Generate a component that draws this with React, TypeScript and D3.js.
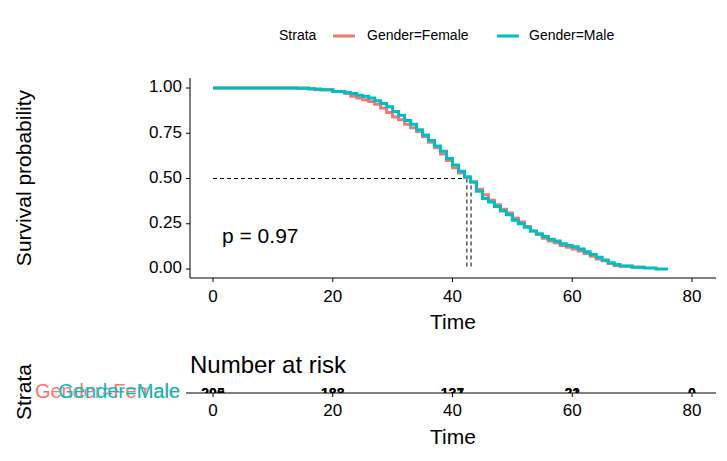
import React from "react";
import * as d3 from "d3";

const femaleT = [0, 11, 14, 17, 20, 22, 23, 24, 25, 26, 27, 28, 29, 30, 31, 32, 33, 34, 35, 36, 37, 38, 39, 40, 41, 42, 43, 44, 45, 46, 47, 48, 49, 50, 51, 52, 53, 54, 55, 56, 57, 58, 59, 60, 61, 62, 63, 64, 65, 66, 67, 68, 70, 72];
const femaleS = [1, 1, 0.997, 0.99, 0.98, 0.97, 0.955, 0.945, 0.935, 0.925, 0.91, 0.89, 0.865, 0.84, 0.825, 0.8, 0.78, 0.76, 0.73, 0.7, 0.67, 0.635, 0.6, 0.56, 0.53, 0.505, 0.48, 0.44, 0.41, 0.38, 0.355, 0.33, 0.31, 0.28, 0.26, 0.235, 0.21, 0.19, 0.17, 0.155, 0.145, 0.13, 0.12, 0.11, 0.1, 0.085, 0.07, 0.055, 0.045, 0.03, 0.02, 0.015, 0.01, 0];
const maleT = [0, 13, 16, 18, 20, 22, 23, 24, 25, 26, 27, 28, 29, 30, 31, 32, 33, 34, 35, 36, 37, 38, 39, 40, 41, 42, 43, 44, 45, 46, 47, 48, 49, 50, 51, 52, 53, 54, 55, 56, 57, 58, 59, 60, 61, 62, 63, 64, 65, 66, 67, 68, 70, 72, 74, 76];
const maleS = [1, 1, 0.995, 0.99, 0.98, 0.975, 0.97, 0.96, 0.955, 0.945, 0.93, 0.915, 0.897, 0.87, 0.85, 0.82, 0.8, 0.77, 0.74, 0.71, 0.68, 0.65, 0.61, 0.575, 0.54, 0.51, 0.48, 0.43, 0.39, 0.37, 0.345, 0.32, 0.3, 0.27, 0.25, 0.23, 0.21, 0.195, 0.18, 0.165, 0.155, 0.14, 0.13, 0.123, 0.11, 0.095, 0.08, 0.065, 0.05, 0.035, 0.025, 0.017, 0.01, 0.005, 0, 0];
const medians = [42.4, 43.1];
const xTicks = [0, 20, 40, 60, 80];
const yTicks = [0, 0.25, 0.5, 0.75, 1];
const riskFemale = ["200", "183", "127", "21", "0"];
const riskMale = ["205", "188", "131", "22", "0"];

const RED = "#F8766D";
const CYAN = "#00BFC4";
const FONT = "Liberation Sans, Arial, sans-serif";

export default function App() {
  const x = d3.scaleLinear().domain([0, 80]).range([213, 692]);
  const y = d3.scaleLinear().domain([0, 1]).range([269, 88]);
  const line = d3.line<[number, number]>()
    .x((d) => x(d[0])).y((d) => y(d[1])).curve(d3.curveStepAfter);
  const fem = femaleT.map((t, i) => [t, femaleS[i]] as [number, number]);
  const mal = maleT.map((t, i) => [t, maleS[i]] as [number, number]);
  const riskY = 393;

  return (
    <svg width={727} height={461} style={{ position: "absolute", left: 0, top: 0 }} fontFamily={FONT}>
      <rect width={727} height={461} fill="white" />
      {/* legend */}
      <g fontSize={14} dominantBaseline="middle">
        <text x={279} y={36}>Strata</text>
        <line x1={333} x2={355} y1={36} y2={36} stroke={RED} strokeWidth={3} />
        <text x={367} y={36}>Gender=Female</text>
        <line x1={497} x2={519} y1={36} y2={36} stroke={CYAN} strokeWidth={3} />
        <text x={529} y={36}>Gender=Male</text>
      </g>
      {/* axes */}
      <line x1={190} x2={190} y1={78} y2={278} stroke="black" />
      <line x1={190} x2={716} y1={278} y2={278} stroke="black" />
      {yTicks.map((t) => (
        <g key={t}>
          <line x1={186} x2={190} y1={y(t)} y2={y(t)} stroke="black" />
          <text x={182} y={y(t)} textAnchor="end" dominantBaseline="middle" fontSize={17}>{t.toFixed(2)}</text>
        </g>
      ))}
      {xTicks.map((t) => (
        <g key={t}>
          <line x1={x(t)} x2={x(t)} y1={278} y2={282} stroke="black" />
          <text x={x(t)} y={298} textAnchor="middle" dominantBaseline="middle" fontSize={17}>{t}</text>
        </g>
      ))}
      <text x={453} y={323} textAnchor="middle" dominantBaseline="middle" fontSize={21}>Time</text>
      <text transform="translate(25,178) rotate(-90)" textAnchor="middle" dominantBaseline="middle" fontSize={21}>Survival probability</text>
      {/* medians */}
      <g stroke="black" strokeDasharray="4,3" fill="none">
        <line x1={x(0)} x2={x(medians[1])} y1={y(0.5)} y2={y(0.5)} />
        {medians.map((m) => <line key={m} x1={x(m)} x2={x(m)} y1={y(0.5)} y2={y(0)} />)}
      </g>
      <path d={line(fem) ?? ""} fill="none" stroke={RED} strokeWidth={3} />
      <path d={line(mal) ?? ""} fill="none" stroke={CYAN} strokeWidth={3} />
      <text x={222} y={237} dominantBaseline="middle" fontSize={21}>p = 0.97</text>

      {/* risk table */}
      <text x={190} y={367} dominantBaseline="middle" fontSize={24}>Number at risk</text>
      <text transform="translate(25,392) rotate(-90)" textAnchor="middle" dominantBaseline="middle" fontSize={21}>Strata</text>
      <text x={180} y={393} textAnchor="end" dominantBaseline="middle" fontSize={20} fill={RED}>Gender=Female</text>
      <text x={180} y={393} textAnchor="end" dominantBaseline="middle" fontSize={20} fill={CYAN}>Gender=Male</text>
      <defs>
        <clipPath id="rc"><rect x={190} y={388} width={530} height={5} /></clipPath>
      </defs>
      <g clipPath="url(#rc)" fontSize={14} textAnchor="middle" fontWeight="bold">
        {xTicks.map((t, i) => (
          <g key={t}>
            <text x={x(t)} y={398}>{riskFemale[i]}</text>
            <text x={x(t)} y={398}>{riskMale[i]}</text>
          </g>
        ))}
      </g>
      <line x1={186} x2={190} y1={riskY} y2={riskY} stroke="black" />
      <line x1={190} x2={716} y1={riskY} y2={riskY} stroke="black" />
      {xTicks.map((t) => (
        <g key={"r" + t}>
          <line x1={x(t)} x2={x(t)} y1={riskY} y2={riskY + 4} stroke="black" />
          <text x={x(t)} y={412} textAnchor="middle" dominantBaseline="middle" fontSize={17}>{t}</text>
        </g>
      ))}
      <text x={453} y={438} textAnchor="middle" dominantBaseline="middle" fontSize={21}>Time</text>
    </svg>
  );
}
